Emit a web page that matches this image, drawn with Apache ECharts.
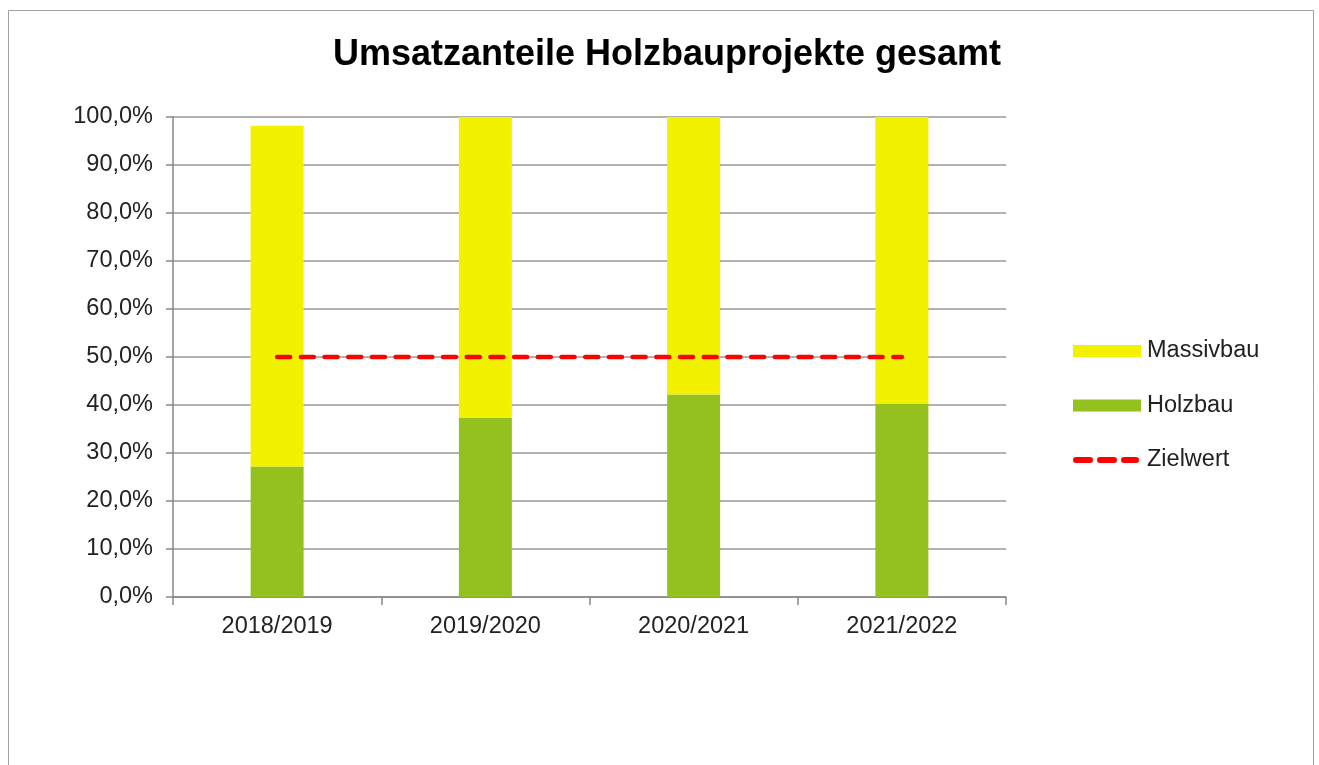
<!DOCTYPE html>
<html>
<head>
<meta charset="utf-8">
<script src="https://cdn.jsdelivr.net/npm/echarts@6/dist/echarts.min.js"></script>
<style>
  html, body { margin: 0; padding: 0; background: #fff; }
  #chart { width: 1319px; height: 765px; }
</style>
</head>
<body>
<div id="chart"></div>
<script>
// Values (percent)
const years = ['2018/2019', '2019/2020', '2020/2021', '2021/2022'];
const holzbau = [27.2, 37.3, 42.2, 40.3];
const massivbau = [71.0, 62.7, 57.8, 59.7];
const zielwert = [50, 50, 50, 50];

const fmtPct = (v) => v.toFixed(1).replace('.', ',') + '%';

// three rounded dashes for the target line legend entry (68x12 box)
const dashIcon = 'path://M0,0 M68,12 ' +
  'M3,3 L17,3 A3,3 0 0 1 17,9 L3,9 A3,3 0 0 1 3,3 Z ' +
  'M27,3 L41,3 A3,3 0 0 1 41,9 L27,9 A3,3 0 0 1 27,3 Z ' +
  'M51,3 L63,3 A3,3 0 0 1 63,9 L51,9 A3,3 0 0 1 51,3 Z';

const chart = echarts.init(document.getElementById('chart'));

chart.setOption({
  animation: false,
  textStyle: { fontFamily: 'Liberation Sans, Arial, sans-serif' },
  title: {
    text: 'Umsatzanteile Holzbauprojekte gesamt',
    left: 662,
    top: 32,
    textAlign: 'center',
    textStyle: { fontSize: 36, fontWeight: 'bold', color: '#000' },
  },
  // outer frame of the chart area
  graphic: [
    {
      type: 'rect',
      shape: { x: 8.5, y: 10.5, width: 1305, height: 770 },
      style: { fill: 'none', stroke: '#a0a0a0', lineWidth: 1 },
      silent: true,
    },
  ],
  legend: {
    orient: 'vertical',
    left: 1068,
    top: 334,
    itemWidth: 68,
    itemHeight: 12,
    itemGap: 30.5,
    textStyle: { fontSize: 23.5, color: '#222', padding: [0, 0, 0, 1] },
    data: [
      { name: 'Massivbau', icon: 'rect' },
      { name: 'Holzbau', icon: 'rect' },
      { name: 'Zielwert', icon: dashIcon, itemStyle: { color: '#ff0000' } },
    ],
  },
  grid: { left: 173, top: 117, right: 313, bottom: 168 },
  xAxis: {
    type: 'category',
    data: years,
    boundaryGap: true,
    axisLine: { lineStyle: { color: '#888', width: 1.5 } },
    axisTick: { show: true, length: 8, lineStyle: { color: '#888', width: 1.5 } },
    axisLabel: { fontSize: 23.5, color: '#222', margin: 18 },
  },
  yAxis: {
    type: 'value',
    min: 0,
    max: 100,
    interval: 10,
    axisLine: { show: true, lineStyle: { color: '#888', width: 1.5 } },
    axisTick: { show: true, length: 7, lineStyle: { color: '#888', width: 1.5 } },
    axisLabel: { fontSize: 23.5, color: '#222', margin: 20, formatter: fmtPct },
    splitLine: { lineStyle: { color: '#999', width: 1.5 } },
  },
  series: [
    {
      name: 'Holzbau',
      type: 'bar',
      stack: 'total',
      data: holzbau,
      barWidth: 53,
      itemStyle: { color: '#95c11f' },
    },
    {
      name: 'Massivbau',
      type: 'bar',
      stack: 'total',
      data: massivbau,
      barWidth: 53,
      itemStyle: { color: '#f2f200' },
    },
    {
      name: 'Zielwert',
      type: 'line',
      data: zielwert,
      symbol: 'none',
      z: 5,
      itemStyle: { color: '#ff0000' },
      lineStyle: { color: '#ff0000', width: 4.5, type: [13, 10.7], cap: 'round' },
    },
  ],
});
</script>
</body>
</html>
